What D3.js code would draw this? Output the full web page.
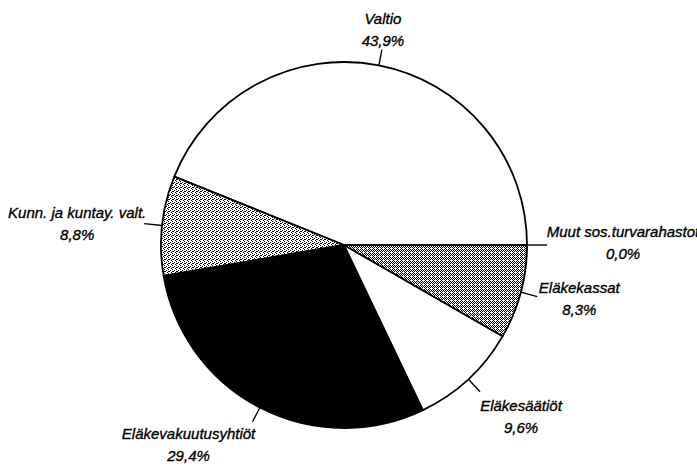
<!DOCTYPE html>
<html>
<head>
<meta charset="utf-8">
<script src="https://cdn.jsdelivr.net/npm/d3@7"></script>
<style>
  html, body { margin: 0; padding: 0; background: #fff; }
  svg { display: block; }
  text { font-family: "Liberation Sans", Arial, sans-serif; font-style: italic; font-size: 15px; fill: #000; stroke: #000; stroke-width: 0.35px; }
</style>
</head>
<body>
<svg id="chart" width="697" height="466"></svg>
<script>
// ---- data ----
const categories = ["Valtio", "Kunn. ja kuntay. valt.", "Eläkevakuutusyhtiöt", "Eläkesäätiöt", "Eläkekassat", "Muut sos.turvarahastot"];
const values = [43.9, 8.8, 29.4, 9.6, 8.3, 0.0];
const valueLabels = ["43,9%", "8,8%", "29,4%", "9,6%", "8,3%", "0,0%"];
const fills = ["#ffffff", "url(#dotsLight)", "#000000", "#ffffff", "url(#dotsDark)", "#ffffff"];

// ---- layout ----
const W = 697, H = 466;
const cx = 344, cy = 245, R = 183;
const tickLen = [16, 18, 16, 17, 17, 20];
// label placement relative to tick end: [dx (center), dy first baseline]
const labelOffset = [[1, -26], [-67, -6], [-64, 17], [41, 19], [42, -4], [76, -8]];
const lineGap = 22;

const svg = d3.select("#chart");
const defs = svg.append("defs");

function dotPattern(id, cells, size) {
  const p = defs.append("pattern").attr("id", id).attr("patternUnits", "userSpaceOnUse")
    .attr("width", size).attr("height", size);
  p.append("rect").attr("width", size).attr("height", size).attr("fill", "#fff");
  cells.forEach(([x, y]) => p.append("rect").attr("x", x).attr("y", y).attr("width", 1).attr("height", 1).attr("fill", "#000"));
}
dotPattern("dotsLight", [[0,0],[2,1],[1,2],[3,3],[0,2]], 4);
dotPattern("dotsDark", [[0,0],[2,0],[1,1],[3,1],[0,2],[2,2],[1,3]], 4);

const pie = d3.pie().sort(null).value(d => d)
  .startAngle(Math.PI / 2).endAngle(Math.PI / 2 - 2 * Math.PI);
const arcs = pie(values);
const arc = d3.arc().innerRadius(0).outerRadius(R);

const g = svg.append("g").attr("transform", `translate(${cx},${cy})`);

g.selectAll("path.slice").data(arcs).enter().append("path")
  .attr("class", "slice")
  .attr("d", arc)
  .attr("fill", (d, i) => fills[i])
  .attr("stroke", "#000")
  .attr("stroke-width", 1.8)
  .attr("stroke-linejoin", "round");

// zero slice radial line
arcs.forEach((d, i) => {
  if (d.value === 0) {
    const a = d.startAngle;
    g.append("line").attr("x1", 0).attr("y1", 0)
      .attr("x2", R * Math.sin(a)).attr("y2", -R * Math.cos(a))
      .attr("stroke", "#000").attr("stroke-width", 1.8);
  }
});

// leader ticks + labels
arcs.forEach((d, i) => {
  const a = (d.startAngle + d.endAngle) / 2;
  const sx = Math.sin(a), sy = -Math.cos(a);
  const x1 = R * sx, y1 = R * sy;
  const x2 = (R + tickLen[i]) * sx, y2 = (R + tickLen[i]) * sy;
  g.append("line").attr("x1", x1).attr("y1", y1).attr("x2", x2).attr("y2", y2)
    .attr("stroke", "#000").attr("stroke-width", 1.4);
  const lx = x2 + labelOffset[i][0], ly = y2 + labelOffset[i][1];
  const t = g.append("text").attr("text-anchor", "middle");
  t.append("tspan").attr("x", lx).attr("y", ly).text(categories[i]);
  t.append("tspan").attr("x", lx).attr("y", ly + lineGap).text(valueLabels[i]);
});
</script>
</body>
</html>
